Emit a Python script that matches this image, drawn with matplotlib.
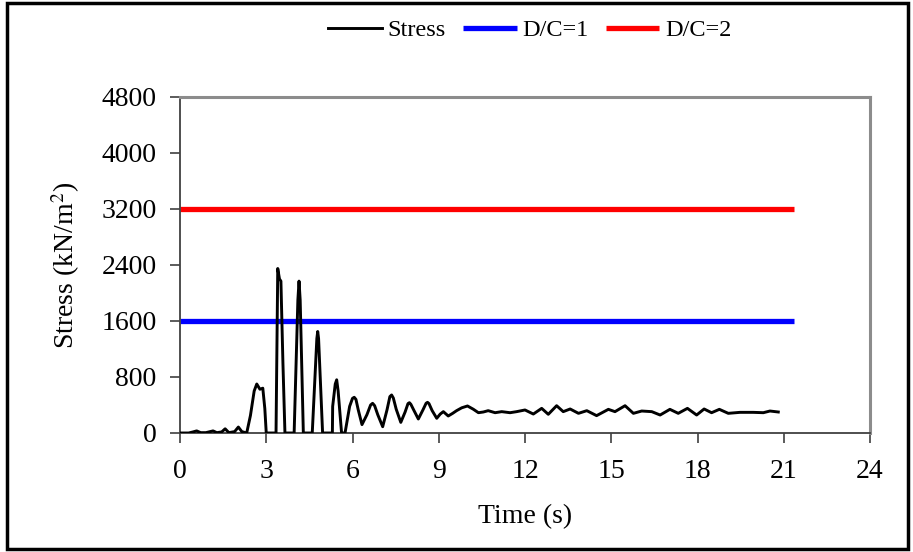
import matplotlib
matplotlib.use("Agg")
import matplotlib.pyplot as plt
from matplotlib.patches import Rectangle

plt.rcParams['font.family'] = ['Liberation Serif', 'DejaVu Serif']
plt.rcParams['mathtext.fontset'] = 'stix'

# Stress time history (s, kN/m^2)
time_s = [0.0, 0.30, 0.45, 0.58, 0.72, 0.90, 1.05, 1.15, 1.28, 1.45, 1.57, 1.70,
          1.90, 2.03, 2.15, 2.32, 2.45, 2.58, 2.67, 2.78, 2.88, 2.95, 3.00,
          3.34, 3.40, 3.46, 3.51, 3.58, 3.65,
          3.97, 4.10, 4.14, 4.18, 4.29,
          4.60, 4.76, 4.79, 4.82, 4.96,
          5.30, 5.31, 5.40, 5.45, 5.50, 5.62, 5.74,
          5.90, 6.00, 6.06, 6.12, 6.20, 6.33, 6.50, 6.63, 6.70, 6.77, 6.88,
          7.05, 7.20, 7.30, 7.36, 7.42, 7.52, 7.68, 7.83, 7.93, 7.98, 8.03,
          8.14, 8.29, 8.45, 8.56, 8.61, 8.66, 8.77, 8.93, 9.05, 9.16, 9.33,
          9.48, 9.62, 9.80, 10.0, 10.20, 10.38, 10.55, 10.72, 10.96, 11.19,
          11.48, 11.71, 12.0, 12.29, 12.58, 12.81, 13.1, 13.33, 13.57, 13.86,
          14.15, 14.49, 14.9, 15.13, 15.48, 15.77, 16.06, 16.41, 16.70, 17.04,
          17.33, 17.65, 17.97, 18.23, 18.49, 18.76, 19.07, 19.48, 19.94, 20.29,
          20.52, 20.81]
stress = [0, 0, 15, 30, 5, 5, 20, 30, 5, 15, 60, 5,
          20, 85, 20, 0, 250, 600, 700, 625, 640, 350, 0,
          0, 2350, 2200, 2170, 1000, 0,
          0, 1900, 2170, 1900, 0,
          0, 1350, 1450, 1350, 0,
          0, 380, 700, 760, 600, 0, 0,
          380, 495, 510, 480, 330, 120, 260, 400, 424, 390, 260,
          90, 330, 520, 543, 500, 340, 152, 300, 420, 433, 410,
          320, 200, 330, 425, 438, 420, 320, 210, 270, 305, 243,
          280, 319, 360, 386, 340, 290, 300, 319, 290, 305,
          290, 305, 329, 271, 352, 267, 390, 305, 343, 281,
          319, 248, 338, 305, 390, 281, 314, 305, 257, 338,
          281, 352, 257, 343, 290, 338, 281, 295, 295, 290,
          314, 300]

# Demand/capacity reference levels
limit_time = [0.0, 21.35]
dc1_level = [1600, 1600]
dc2_level = [3200, 3200]

x_ticks = [0, 3, 6, 9, 12, 15, 18, 21, 24]
y_ticks = [0, 800, 1600, 2400, 3200, 4000, 4800]

W, H = 913, 552
fig = plt.figure(figsize=(W / 100, H / 100), dpi=100)
ax = fig.add_axes([180 / W, 1 - 433 / H, 690 / W, 336 / H])

ax.plot(limit_time, dc1_level, color='#0000FF', lw=3.8, label='D/C=1',
        solid_capstyle='butt', zorder=2)
ax.plot(limit_time, dc2_level, color='#FF0000', lw=3.8, label='D/C=2',
        solid_capstyle='butt', zorder=2)
ax.plot(time_s, stress, color='black', lw=2.1, label='Stress', zorder=3)

ax.set_xlim(0, 24)
ax.set_ylim(0, 4800)
ax.set_xticks(x_ticks)
ax.set_yticks(y_ticks)
ax.tick_params(axis='both', labelsize=20, length=7, width=1.2,
               color='#404040', direction='out')
ax.tick_params(axis='x', pad=12)
ax.tick_params(axis='y', pad=10)

for side in ('left', 'bottom'):
    ax.spines[side].set_color('#404040')
    ax.spines[side].set_linewidth(1.3)
for side in ('top', 'right'):
    ax.spines[side].set_color('#8C8C8C')
    ax.spines[side].set_linewidth(2.2)

ax.set_xlabel('Time (s)', fontsize=20, labelpad=14)
ax.set_ylabel('Stress (kN/m$^2$)', fontsize=20, labelpad=14)

handles, labels = ax.get_legend_handles_labels()
order = [2, 0, 1]
fig.legend([handles[i] for i in order], [labels[i] for i in order],
           loc='center', bbox_to_anchor=(530 / W, 1 - 30 / H), ncol=3,
           frameon=False, fontsize=17.5, handlelength=2.2, handletextpad=0.25,
           columnspacing=0.7)

fig.patches.append(Rectangle((7 / W, 3 / H), 901 / W, 546 / H,
                             transform=fig.transFigure, fill=False,
                             edgecolor='black', linewidth=2.5))

fig.savefig('out.png', dpi=100)
